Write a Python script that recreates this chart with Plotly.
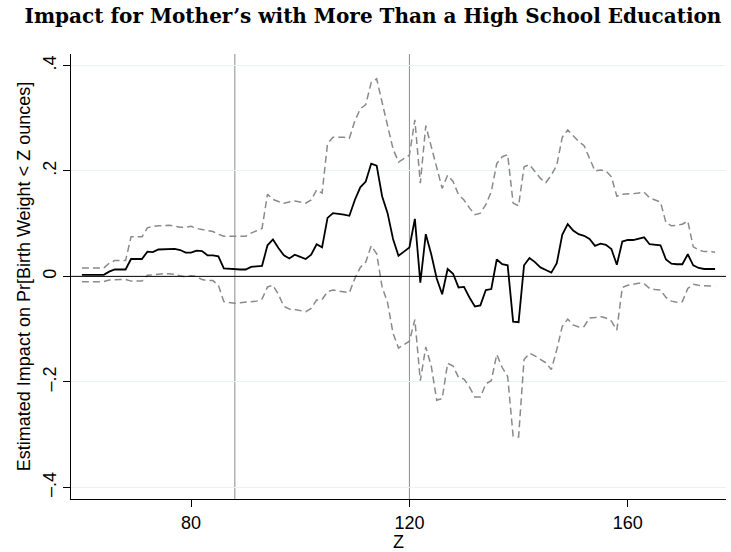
import plotly.graph_objects as go

# Birth-weight threshold Z (ounces)
z = list(range(60, 177))

# Point estimate
estimate = [
    0.003, 0.003, 0.003, 0.003, 0.003, 0.009, 0.013, 0.013, 0.013, 0.033,
    0.033, 0.033, 0.047, 0.046, 0.051, 0.051, 0.051, 0.052, 0.050, 0.045,
    0.045, 0.049, 0.048, 0.040, 0.040, 0.038, 0.015, 0.014, 0.013, 0.013,
    0.013, 0.018, 0.019, 0.020, 0.059, 0.070, 0.054, 0.040, 0.034, 0.041,
    0.037, 0.033, 0.041, 0.061, 0.055, 0.111, 0.120, 0.119, 0.117, 0.115,
    0.145, 0.169, 0.180, 0.214, 0.210, 0.152, 0.120, 0.071, 0.039, 0.047,
    0.055, 0.109, -0.012, 0.080, 0.042, -0.004, -0.034, 0.014, 0.005, -0.021,
    -0.020, -0.040, -0.057, -0.055, -0.026, -0.024, 0.032, 0.023, 0.021, -0.086,
    -0.087, 0.021, 0.035, 0.027, 0.017, 0.012, 0.007, 0.025, 0.079, 0.099,
    0.087, 0.080, 0.077, 0.071, 0.058, 0.062, 0.060, 0.052, 0.022, 0.066,
    0.069, 0.069, 0.072, 0.074, 0.061, 0.060, 0.059, 0.032, 0.024, 0.023,
    0.023, 0.042, 0.021, 0.016, 0.014, 0.014, 0.014,
]

# Upper confidence bound
upper = [
    0.016, 0.016, 0.016, 0.016, 0.016, 0.025, 0.030, 0.030, 0.030, 0.075,
    0.075, 0.075, 0.092, 0.095, 0.096, 0.096, 0.097, 0.095, 0.093, 0.093,
    0.095, 0.091, 0.089, 0.087, 0.085, 0.080, 0.076, 0.076, 0.076, 0.076,
    0.076, 0.082, 0.087, 0.091, 0.156, 0.146, 0.142, 0.139, 0.141, 0.143,
    0.141, 0.139, 0.145, 0.164, 0.158, 0.252, 0.264, 0.264, 0.264, 0.262,
    0.295, 0.318, 0.326, 0.368, 0.375, 0.330, 0.286, 0.242, 0.217, 0.223,
    0.230, 0.297, 0.177, 0.286, 0.248, 0.205, 0.167, 0.192, 0.180, 0.155,
    0.145, 0.130, 0.117, 0.120, 0.136, 0.161, 0.214, 0.227, 0.231, 0.139,
    0.134, 0.208, 0.212, 0.199, 0.186, 0.178, 0.192, 0.211, 0.264, 0.278,
    0.266, 0.256, 0.248, 0.223, 0.200, 0.202, 0.200, 0.189, 0.152, 0.156,
    0.156, 0.157, 0.158, 0.160, 0.149, 0.145, 0.141, 0.102, 0.096, 0.097,
    0.099, 0.105, 0.056, 0.050, 0.047, 0.047, 0.046,
]

# Lower confidence bound
lower = [
    -0.010, -0.010, -0.010, -0.010, -0.010, -0.007, -0.006, -0.006, -0.006, -0.009,
    -0.009, -0.009, 0.002, 0.003, 0.005, 0.005, 0.005, 0.004, 0.001, -0.001,
    0.001, 0.000, -0.006, -0.008, -0.008, -0.017, -0.048, -0.050, -0.051, -0.050,
    -0.049, -0.047, -0.047, -0.043, -0.020, -0.017, -0.034, -0.057, -0.062, -0.063,
    -0.065, -0.067, -0.061, -0.045, -0.044, -0.029, -0.026, -0.028, -0.029, -0.031,
    -0.004, 0.017, 0.027, 0.058, 0.043, -0.020, -0.050, -0.108, -0.136, -0.129,
    -0.123, -0.082, -0.198, -0.134, -0.170, -0.235, -0.232, -0.165, -0.170, -0.192,
    -0.195, -0.210, -0.229, -0.229, -0.204, -0.198, -0.148, -0.173, -0.190, -0.303,
    -0.305, -0.158, -0.146, -0.151, -0.157, -0.164, -0.177, -0.139, -0.095, -0.081,
    -0.092, -0.096, -0.095, -0.079, -0.078, -0.076, -0.079, -0.085, -0.102, -0.021,
    -0.017, -0.015, -0.013, -0.014, -0.023, -0.025, -0.026, -0.040, -0.047, -0.049,
    -0.048, -0.023, -0.015, -0.017, -0.018, -0.018, -0.019,
]

# Reference lines on the Z axis
ref_lines = [88, 120]

y_ticks = [-0.4, -0.2, 0, 0.2, 0.4]
y_tick_labels = ["\u2013.4", "\u2013.2", "0", ".2", ".4"]
x_ticks = [80, 120, 160]

SANS = "Liberation Sans, Arial, Helvetica, sans-serif"

fig = go.Figure()

dash_style = dict(color="#8a8a8a", width=1.5, dash="7px,4px")
fig.add_trace(go.Scatter(x=z, y=upper, mode="lines", line=dash_style,
                         showlegend=False, hoverinfo="skip"))
fig.add_trace(go.Scatter(x=z, y=lower, mode="lines", line=dash_style,
                         showlegend=False, hoverinfo="skip"))
fig.add_trace(go.Scatter(x=z, y=estimate, mode="lines",
                         line=dict(color="black", width=1.8),
                         showlegend=False))

# Vertical reference lines
fig.add_vline(x=ref_lines[0], line=dict(color="#b2b2b2", width=1.5), layer="below")
fig.add_vline(x=ref_lines[1], line=dict(color="#8c8c8c", width=1), layer="below")
# Horizontal line at zero
fig.add_hline(y=0, line=dict(color="black", width=1), layer="above")

fig.update_layout(
    width=731, height=552,
    margin=dict(l=71, r=5, t=54, b=47),
    paper_bgcolor="white", plot_bgcolor="white",
    font=dict(family=SANS, size=18, color="black"),
    title=dict(
        text="<b>Impact for Mother\u2019s with More Than a High School Education</b>",
        font=dict(family="DejaVu Serif, Liberation Serif, serif", size=20, color="black"),
        x=373 / 731, xanchor="center", xref="container",
        y=1 - 16 / 552, yanchor="middle", yref="container",
    ),
    xaxis=dict(
        range=[58, 178], tickvals=x_ticks, ticks="outside", ticklen=7,
        tickcolor="black", showline=True, linecolor="black", linewidth=1.2,
        showgrid=False, zeroline=False, mirror=False,
        title=dict(text="Z", font=dict(size=18), standoff=2),
        tickfont=dict(size=18),
    ),
    yaxis=dict(
        range=[-0.4225, 0.422], tickvals=y_ticks, ticktext=y_tick_labels,
        tickangle=-90, ticks="outside", ticklen=7, tickcolor="black",
        showline=True, linecolor="black", linewidth=1.2,
        showgrid=True, gridcolor="#eaf2f3", gridwidth=1, zeroline=False,
        title=dict(text="Estimated Impact on Pr[Birth Weight < Z ounces]",
                   font=dict(size=18), standoff=4),
        tickfont=dict(size=18),
    ),
)

fig.write_html("out.html")
